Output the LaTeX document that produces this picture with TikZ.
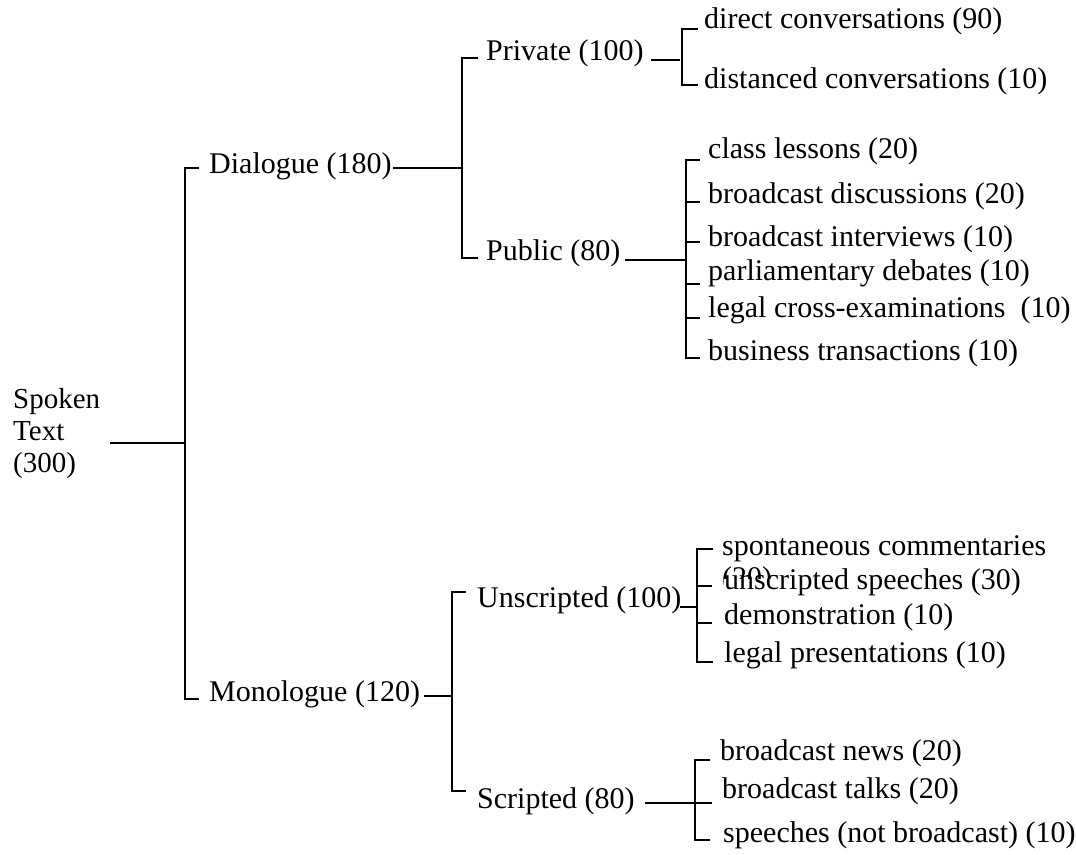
\documentclass[tikz,border=0pt]{standalone}
\usepackage{fontspec}
\setmainfont{Liberation Serif}
\begin{document}
\begin{tikzpicture}[x=1pt,y=-1pt,
  ln/.style={line width=1.7pt, line cap=butt},
  txt/.style={anchor=base west, inner sep=0pt, font=\fontsize{30}{32}\selectfont}]
\useasboundingbox (0,0) rectangle (1076,854);

% ---------- text nodes ----------
\node[txt, align=left, font=\fontsize{29}{32}\selectfont] (root) at (13,472) {Spoken\\Text\\(300)};
\node[txt] (dia)   at (209,173) {Dialogue (180)};
\node[txt] (mono)  at (209,701) {Monologue (120)};
\node[txt] (priv)  at (486,60)  {Private (100)};
\node[txt] (pub)   at (486,260) {Public (80)};
\node[txt] (unscr) at (477,607) {Unscripted (100)};
\node[txt] (scr)   at (477,808) {Scripted (80)};

\node[txt] (dc)  at (704,28)  {direct conversations (90)};
\node[txt] (dsc) at (704,88)  {distanced conversations (10)};

\node[txt] (cl)  at (708,158) {class lessons (20)};
\node[txt] (bd)  at (708,203) {broadcast discussions (20)};
\node[txt] (bi)  at (708,246) {broadcast interviews (10)};
\node[txt] (pd)  at (708,280) {parliamentary debates (10)};
\node[txt] (lc)  at (708,317) {legal cross-examinations~ (10)};
\node[txt] (bt)  at (708,360) {business transactions (10)};

\node[txt, align=left] (sc) at (722,587) {spontaneous commentaries\\(20)};
\node[txt, fill=white, text height=10pt] (us) at (724,589) {unscripted speeches (30)};
\node[txt] (dm)  at (724,624) {demonstration (10)};
\node[txt] (lp)  at (724,662) {legal presentations (10)};

\node[txt] (bn)  at (720,760) {broadcast news (20)};
\node[txt] (btk) at (722,798) {broadcast talks (20)};
\node[txt] (sp)  at (723,842) {speeches (not broadcast) (10)};

% ---------- bracket coordinates ----------
\coordinate (r0) at (110,443);  \coordinate (j0) at (185,443);
\coordinate (j0t) at (185,168); \coordinate (j0b) at (185,699);

\coordinate (d0) at (393,168);  \coordinate (j1) at (462,168);
\coordinate (j1t) at (462,58);  \coordinate (j1b) at (462,258);

\coordinate (p0) at (651,60);   \coordinate (j2) at (680,60);
\coordinate (j2t) at (682,29);  \coordinate (j2b) at (682,85);

\coordinate (u0) at (625,260);  \coordinate (j3) at (686,260);
\coordinate (j3t) at (686,160); \coordinate (j3b) at (686,358);

\coordinate (m0) at (424,696);  \coordinate (j4) at (452,696);
\coordinate (j4t) at (452,592); \coordinate (j4b) at (452,791);

\coordinate (n0) at (680,607);  \coordinate (j5) at (697,607);
\coordinate (j5t) at (697,549); \coordinate (j5b) at (697,662);

\coordinate (s0) at (645,803);  \coordinate (s1) at (712,803);
\coordinate (j6t) at (695,760); \coordinate (j6b) at (695,840);

% ---------- connectors ----------
\draw[ln] (r0) -- (j0);
\draw[ln] (j0t -| 199,0) -- (j0t) -- (j0b) -- (j0b -| 199,0);

\draw[ln] (d0) -- (j1);
\draw[ln] (j1t -| 478,0) -- (j1t) -- (j1b) -- (j1b -| 478,0);

\draw[ln] (p0) -- (j2);
\draw[ln] (j2t -| 698,0) -- (j2t) -- (j2b) -- (j2b -| 698,0);

\draw[ln] (u0) -- (j3);
\draw[ln] (j3t -| 700,0) -- (j3t) -- (j3b) -- (j3b -| 700,0);
\foreach \yy in {202,242,284,318} \draw[ln] (686,\yy) -- (700,\yy);

\draw[ln] (m0) -- (j4);
\draw[ln] (j4t -| 466,0) -- (j4t) -- (j4b) -- (j4b -| 466,0);

\draw[ln] (n0) -- (j5);
\draw[ln] (j5t -| 713,0) -- (j5t) -- (j5b) -- (j5b -| 713,0);
\foreach \yy in {586,623} \draw[ln] (697,\yy) -- (712,\yy);

\draw[ln] (s0) -- (s1);
\draw[ln] (j6t -| 710,0) -- (j6t) -- (j6b) -- (j6b -| 710,0);
\end{tikzpicture}
\end{document}
